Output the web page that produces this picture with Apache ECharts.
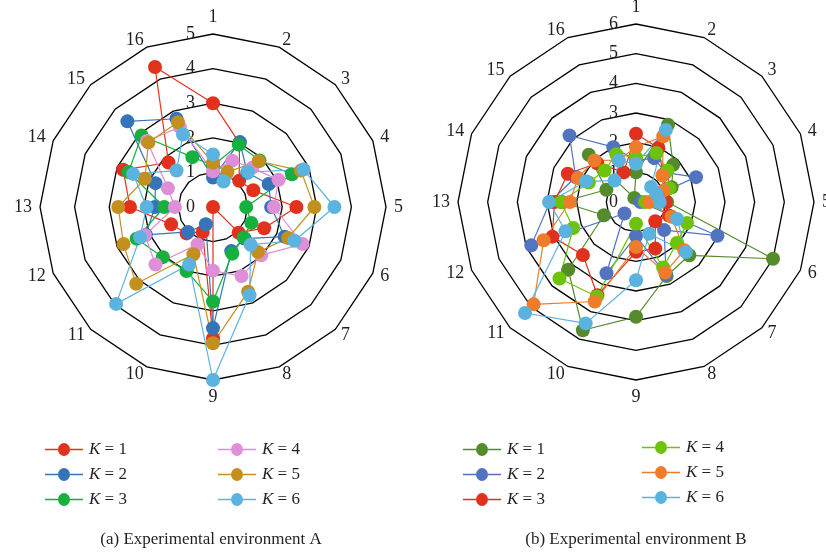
<!DOCTYPE html>
<html>
<head>
<meta charset="utf-8">
<script src="https://cdn.jsdelivr.net/npm/echarts@6/dist/echarts.min.js"></script>
<style>
  html, body { margin: 0; padding: 0; background: #ffffff; }
  #chart { width: 826px; height: 554px; }
</style>
</head>
<body>
<div id="chart"></div>
<script>
// Axis names, listed clockwise from the top
const axisNames = ['1','2','3','4','5','6','7','8','9','10','11','12','13','14','15','16'];

// Environment A, one value per axis 1..16
const envA_K1 = [3.0, 2.0, 1.07, 1.26, 2.41, 1.6, 1.05, 0, 3.8, 0.78, 1.08, 1.31, 2.4, 2.81, 1.82, 4.38];
const envA_K2 = [0.85, 2.03, 1.4, 1.74, 1.68, 2.24, 1.29, 1.38, 3.5, 0.54, 1.02, 2.1, 1.68, 1.8, 3.5, 2.76];
const envA_K3 = [1.2, 1.95, 1.9, 2.47, 0.96, 1.2, 1.25, 1.46, 2.73, 2.0, 2.05, 2.39, 1.41, 2.64, 2.92, 1.56];
const envA_K4 = [1.03, 1.45, 1.6, 2.05, 1.76, 2.8, 1.97, 2.16, 1.84, 1.17, 2.35, 2.13, 1.1, 1.41, 2.7, 2.5];
const envA_K5 = [1.28, 1.1, 1.87, 2.75, 2.93, 2.35, 1.84, 2.65, 3.94, 1.48, 3.14, 2.8, 2.74, 2.13, 2.64, 2.65];
const envA_K6 = [1.52, 0.8, 1.43, 2.83, 3.51, 2.55, 1.54, 2.76, 5.0, 1.8, 3.96, 2.28, 1.92, 2.5, 1.49, 2.27];

// Environment B, one value per axis 1..16
const envB_K1 = [1.0, 2.82, 1.77, 1.3, 1.05, 5.0, 2.54, 2.7, 3.87, 4.68, 3.23, 1.17, 2.5, 1.08, 2.25, 0.15];
const envB_K2 = [1.4, 1.6, 1.4, 2.19, 0.15, 2.97, 1.34, 2.65, 1.15, 2.6, 0.55, 3.82, 2.9, 2.2, 3.17, 2.0];
const envB_K3 = [2.3, 1.97, 1.3, 1.1, 1.0, 1.2, 0.92, 1.7, 1.68, 3.4, 2.53, 3.05, 2.75, 2.49, 1.85, 1.08];
const envB_K4 = [1.5, 1.79, 1.5, 1.22, 0.3, 1.86, 1.95, 2.39, 0.73, 3.45, 3.65, 2.29, 2.53, 1.72, 1.5, 1.74];
const envB_K5 = [1.85, 2.4, 1.26, 1.0, 0.45, 1.3, 2.3, 2.57, 1.52, 3.63, 4.88, 3.37, 2.23, 2.12, 1.98, 1.53];
const envB_K6 = [1.29, 2.63, 0.72, 0.74, 0.8, 1.5, 2.38, 1.16, 2.64, 4.43, 5.29, 2.57, 2.93, 1.82, 1.02, 1.51];

// Scale maxima (one ring per unit)
const maxA = 5;
const maxB = 6;

const colorsA = ['#E2311D', '#3574B8', '#17AF3E', '#DE8FD8', '#C39020', '#5BB3DF'];
const colorsB = ['#548B2B', '#5274C0', '#E2301E', '#6CC30A', '#EF7C2A', '#5AB2DE'];

const FONT = '"Liberation Serif", "DejaVu Serif", serif';
const INK = '#231f20';

// ECharts places radar indicators counter-clockwise; walk the axes backwards
// after the first one so they read clockwise.
function clockwise(arr) {
  return [arr[0]].concat(arr.slice(1).reverse());
}

function indicators(max) {
  return clockwise(axisNames).map(function (n, i) {
    const ind = { name: n, min: 0, max: max };
    if (i === 0) {
      ind.axisLabel = {
        show: true, fontFamily: FONT, fontSize: 18, color: INK, margin: 18
      };
    }
    return ind;
  });
}

function radarSeries(prefix, radarIndex, sets, colors) {
  return sets.map(function (vals, i) {
    const name = prefix + (i + 1);
    return {
      type: 'radar',
      name: name,
      radarIndex: radarIndex,
      symbol: 'circle',
      symbolSize: 14,
      itemStyle: { color: colors[i] },
      lineStyle: { color: colors[i], width: 1.2 },
      data: [{ name: name, value: clockwise(vals) }]
    };
  });
}

const legendIcon = 'path://M0,5.8 L13,5.8 L13,7.2 L0,7.2 Z M25,5.8 L38,5.8 L38,7.2 L25,7.2 Z M13,6.5 A6,6.5 0 1,0 25,6.5 A6,6.5 0 1,0 13,6.5 Z';

function legend(names, left, top) {
  return {
    data: names,
    orient: 'vertical',
    left: left,
    top: top,
    icon: legendIcon,
    itemWidth: 38,
    itemHeight: 13,
    itemGap: 8,
    selectedMode: false,
    formatter: function (name) { return '{i|K} = ' + name.slice(1); },
    textStyle: {
      fontFamily: FONT, fontSize: 17, color: INK, padding: [0, 0, 0, 1],
      rich: { i: { fontFamily: FONT, fontSize: 17, fontStyle: 'italic', color: INK } }
    }
  };
}

function radar(center, radius, max) {
  return {
    center: center,
    radius: radius,
    startAngle: 90,
    shape: 'polygon',
    splitNumber: max,
    indicator: indicators(max),
    axisName: { fontFamily: FONT, fontSize: 18, color: INK },
    nameGap: 8,
    axisLine: { show: false },
    axisTick: { show: false },
    axisLabel: { show: false },
    splitArea: { show: false },
    splitLine: { lineStyle: { color: '#000000', width: 1.3 } }
  };
}

const chart = echarts.init(document.getElementById('chart'), null, { renderer: 'canvas' });
chart.setOption({
  animation: false,
  backgroundColor: '#ffffff',
  title: [
    { text: '(a) Experimental environment A', left: 206, top: 526, textAlign: 'center',
      textStyle: { fontFamily: FONT, fontSize: 17, fontWeight: 'normal', color: INK } },
    { text: '(b) Experimental environment B', left: 631, top: 526, textAlign: 'center',
      textStyle: { fontFamily: FONT, fontSize: 17, fontWeight: 'normal', color: INK } }
  ],
  radar: [
    radar([213, 207], 173, maxA),
    radar([636, 202], 178, maxB)
  ],
  legend: [
    legend(['A1', 'A2', 'A3'], 40, 436),
    legend(['A4', 'A5', 'A6'], 213, 436),
    legend(['B1', 'B2', 'B3'], 458, 436),
    legend(['B4', 'B5', 'B6'], 637, 434)
  ],
  series: radarSeries('A', 0, [envA_K1, envA_K2, envA_K3, envA_K4, envA_K5, envA_K6], colorsA)
    .concat(radarSeries('B', 1, [envB_K1, envB_K2, envB_K3, envB_K4, envB_K5, envB_K6], colorsB))
});
</script>
</body>
</html>
